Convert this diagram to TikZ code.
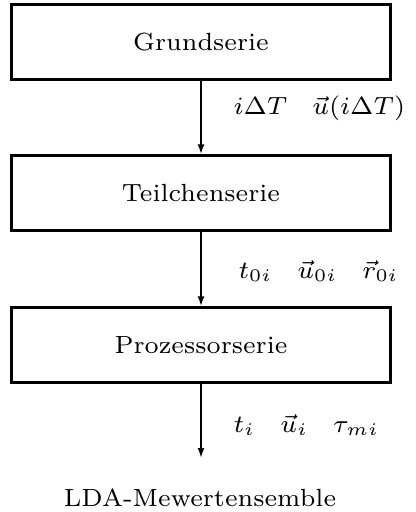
\documentclass[tikz,border=0pt]{standalone}
\usepackage{graphicx}
\usetikzlibrary{arrows.meta}
\newcommand\smtxt[1]{\scalebox{1.42}{\fontsize{7}{8.5}\selectfont #1}}
\tikzset{
  box/.style={draw, line width=1.2pt, rectangle, minimum width=151.2pt, minimum height=29.7pt, inner sep=0pt},
  flow/.style={line width=0.8pt, -{Latex[length=4pt,width=2.8pt]}},
  lbl/.style={anchor=base west, inner sep=0pt}
}
\begin{document}
\begin{tikzpicture}[x=0.4pt,y=-0.4pt]
\useasboundingbox (0,0) rectangle (415,512);
\node[box] (g) at (201,42) {\smtxt{Grundserie}};
\node[box] (t) at (201,193) {\smtxt{Teilchenserie}};
\node[box] (p) at (201,345) {\smtxt{Prozessorserie}};
\node[anchor=base, inner sep=0pt] (l) at (200,506) {\smtxt{LDA-Mewertensemble}};
\coordinate (e3) at (201,458);
\draw[flow] (g.south) -- (t.north);
\draw[flow] (t.south) -- (p.north);
\draw[flow] (p.south) -- (e3);
\node[lbl] (l1) at (233,115) {\smtxt{$i\Delta T\quad \vec u(i\Delta T)$}};
\node[lbl] (l2) at (238,278) {\smtxt{$t_{0i}\quad \vec u_{0i}\quad \vec r_{0i}$}};
\node[lbl] (l3) at (233,432) {\smtxt{$t_i\quad \vec u_i\quad \tau_{mi}$}};
\end{tikzpicture}
\end{document}
